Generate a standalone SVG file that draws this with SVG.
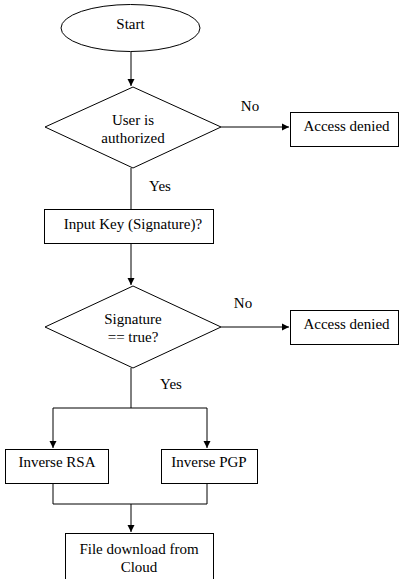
<svg xmlns="http://www.w3.org/2000/svg" width="399" height="579" viewBox="0 0 399 579">
<defs>
<marker id="ah" markerWidth="8" markerHeight="8" refX="7" refY="4" orient="auto" markerUnits="userSpaceOnUse">
<path d="M0,0.5 L7,4 L0,7.5 Z" fill="#000"/>
</marker>
<style>
.s{fill:#fff;stroke:#000;stroke-width:1}
.t{font-family:"Liberation Serif","Times New Roman",serif;font-size:15px;fill:#000;text-anchor:middle}
.c{fill:none;stroke:#000;stroke-width:1}
</style>
</defs>
<rect width="399" height="579" fill="#fff"/>
<g id="connectors">
<line class="c" x1="131" y1="52" x2="131" y2="86" marker-end="url(#ah)"/>
<line class="c" x1="221" y1="127" x2="289" y2="127" marker-end="url(#ah)"/>
<line class="c" x1="131" y1="168" x2="131" y2="209"/>
<line class="c" x1="131" y1="244" x2="131" y2="285" marker-end="url(#ah)"/>
<line class="c" x1="221" y1="327" x2="289" y2="327" marker-end="url(#ah)"/>
<polyline class="c" points="131,368 131,408"/>
<polyline class="c" points="53,408 207,408"/>
<line class="c" x1="53" y1="408" x2="53" y2="448" marker-end="url(#ah)"/>
<line class="c" x1="207" y1="408" x2="207" y2="448" marker-end="url(#ah)"/>
<polyline class="c" points="53,484 53,504 207,504 207,484"/>
<line class="c" x1="131" y1="504" x2="131" y2="532" marker-end="url(#ah)"/>
<text class="t" x="250" y="111">No</text>
<text class="t" x="160" y="191">Yes</text>
<text class="t" x="243" y="308">No</text>
<text class="t" x="171" y="389">Yes</text>
</g>
<g id="start">
<ellipse class="s" cx="130.5" cy="28" rx="69.5" ry="23.5"/>
<text class="t" x="130.5" y="29">Start</text>
</g>
<g id="authorized">
<polygon class="s" points="133,87 221,127 133,168 45,127"/>
<text class="t" x="133" y="125">User is</text>
<text class="t" x="133" y="143">authorized</text>
</g>
<g id="denied1">
<rect class="s" x="290.5" y="112.5" width="108" height="34"/>
<text class="t" x="346.5" y="131">Access denied</text>
</g>
<g id="inputkey">
<rect class="s" x="44.5" y="209.5" width="169" height="34"/>
<text class="t" x="133" y="229">Input Key (Signature)?</text>
</g>
<g id="signature">
<polygon class="s" points="133,286 221,327 133,368 45,327"/>
<text class="t" x="133" y="324">Signature</text>
<text class="t" x="133" y="342">== true?</text>
</g>
<g id="denied2">
<rect class="s" x="290.5" y="310.5" width="108" height="34"/>
<text class="t" x="346.5" y="329">Access denied</text>
</g>
<g id="rsa">
<rect class="s" x="5.5" y="449.5" width="103" height="34"/>
<text class="t" x="57" y="467">Inverse RSA</text>
</g>
<g id="pgp">
<rect class="s" x="161.5" y="449.5" width="96" height="34"/>
<text class="t" x="209" y="467">Inverse PGP</text>
</g>
<g id="download">
<rect class="s" x="65.5" y="533.5" width="148" height="50"/>
<text class="t" x="139" y="554">File download from</text>
<text class="t" x="139" y="572">Cloud</text>
</g>
</svg>
